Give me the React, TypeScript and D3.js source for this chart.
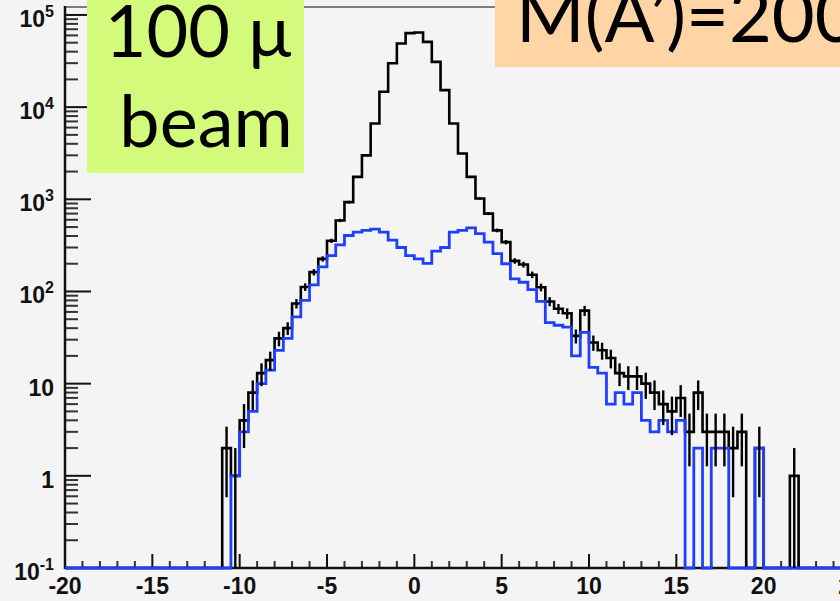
import React from "react";
import * as d3 from "d3";

// ---- data (bin width 0.5, x from -20 to 25) ----
const X_MIN = -20;
const X_MAX = 25;
const BIN_WIDTH = 0.5;

// black histogram: counts for bins starting at -11
const blackStart = -11;
const blackCounts = [
  2, 1, 4, 8, 13, 18, 31, 40, 74, 112, 162, 226, 355, 590, 933, 1750, 3000, 6650,
  14700, 29900, 49100, 63500, 64500, 51000, 31000, 15300, 6650, 3140, 1750, 1020,
  700, 460, 343, 215, 196, 152, 111, 78, 65, 58, 33, 62, 28, 23, 19, 13, 12, 12, 10,
  8, 6, 5, 7, 3, 8, 3, 3, 3, 2, 3, 0, 2, 0, 0, 0, 1, 0,
];

// blue histogram: counts for bins starting at -10.5
const blueStart = -10.5;
const blueCounts = [
  1, 3, 5, 10, 14, 23, 31, 53, 80, 118, 185, 245, 320, 405, 440, 460, 475, 440, 360,
  300, 245, 226, 202, 274, 300, 441, 460, 490, 424, 343, 257, 200, 137, 126, 105, 78,
  46, 43, 41, 20, 36, 15, 13, 6, 8, 6, 8, 4, 3, 4, 3, 4, 0, 2, 0, 2, 2, 0, 0, 0, 2, 0,
];

const xTickMajor = [-20, -15, -10, -5, 0, 5, 10, 15, 20, 25];
const yDecades = [
  { v: 0.1, base: "10", sup: "-1" },
  { v: 1, base: "1", sup: "" },
  { v: 10, base: "10", sup: "" },
  { v: 100, base: "10", sup: "2" },
  { v: 1000, base: "10", sup: "3" },
  { v: 10000, base: "10", sup: "4" },
  { v: 100000, base: "10", sup: "5" },
];
const Y_MIN = 0.1;
const Y_MAX = 122000;

const beamLines = ["100 μ", "beam"];
const massLabel = "M(A’)=200 MeV";

// ---- layout ----
const W = 840;
const H = 601;
const LEFT = 65;
const RIGHT = 851;
const TOP = 7;
const BOTTOM = 568;

function fullBins(start: number, counts: number[]) {
  const n = Math.round((X_MAX - X_MIN) / BIN_WIDTH);
  const out: { x0: number; x1: number; v: number }[] = [];
  const offset = Math.round((start - X_MIN) / BIN_WIDTH);
  for (let i = 0; i < n; i++) {
    const j = i - offset;
    const v = j >= 0 && j < counts.length ? counts[j] : 0;
    out.push({ x0: X_MIN + i * BIN_WIDTH, x1: X_MIN + (i + 1) * BIN_WIDTH, v });
  }
  return out;
}

export default function App() {
  const x = d3.scaleLinear().domain([X_MIN, X_MAX]).range([LEFT, RIGHT]);
  const y = d3.scaleLog().domain([Y_MIN, Y_MAX]).range([BOTTOM, TOP]);

  const yv = (v: number) => (v <= Y_MIN ? BOTTOM : y(v));

  const stepPath = (bins: { x0: number; x1: number; v: number }[]) => {
    const pts: [number, number][] = bins.map((b) => [x(b.x0), yv(b.v)]);
    const last = bins[bins.length - 1];
    pts.push([x(last.x1), yv(last.v)]);
    return d3.line().curve(d3.curveStepAfter)(pts) || "";
  };

  const black = fullBins(blackStart, blackCounts);
  const blue = fullBins(blueStart, blueCounts);

  const xMinor = d3.range(X_MIN, X_MAX + 0.001, 1).filter((v) => Math.abs(v % 5) > 0.001);
  const yMinor: number[] = [];
  for (let e = -1; e <= 5; e++) {
    for (let m = 2; m <= 9; m++) {
      const v = m * Math.pow(10, e);
      if (v < Y_MAX) yMinor.push(v);
    }
  }

  const labelFont = "'Liberation Sans', Arial, Helvetica, sans-serif";
  const bigFont = "Lato, 'Open Sans', sans-serif";

  return (
    <svg
      width={W}
      height={H}
      style={{ position: "absolute", left: 0, top: 0, background: "#f4f4f4" }}
    >
      <defs>
        <clipPath id="plot">
          <rect x={LEFT} y={TOP} width={RIGHT - LEFT} height={BOTTOM - TOP + 2} />
        </clipPath>
      </defs>
      <rect x={0} y={0} width={W} height={H} fill="#f4f4f4" />

      {/* frame */}
      <line x1={LEFT} x2={W} y1={TOP} y2={TOP} stroke="#7d7d7d" strokeWidth={2} />

      {/* y ticks */}
      {yDecades.map((d) => (
        <line key={"ym" + d.v} x1={LEFT} x2={LEFT + 26} y1={y(d.v)} y2={y(d.v)} stroke="#111" strokeWidth={2} />
      ))}
      {yMinor.map((v) => (
        <line key={"yn" + v} x1={LEFT} x2={LEFT + 13} y1={y(v)} y2={y(v)} stroke="#333" strokeWidth={2} />
      ))}
      {/* x ticks */}
      {xTickMajor.map((v) => (
        <line key={"xm" + v} x1={x(v)} x2={x(v)} y1={BOTTOM} y2={BOTTOM - 14} stroke="#111" strokeWidth={2} />
      ))}
      {xMinor.map((v) => (
        <line key={"xn" + v} x1={x(v)} x2={x(v)} y1={BOTTOM} y2={BOTTOM - 7} stroke="#333" strokeWidth={2} />
      ))}

      {/* axes */}
      <line x1={LEFT} x2={LEFT} y1={TOP - 1} y2={BOTTOM + 1} stroke="#111" strokeWidth={2.5} />
      <line x1={LEFT} x2={W} y1={BOTTOM} y2={BOTTOM} stroke="#111" strokeWidth={2.5} />

      {/* y labels */}
      {yDecades.map((d) => (
        <text
          key={"yl" + d.v}
          x={54}
          y={y(d.v) + 12}
          textAnchor="end"
          fontFamily={labelFont}
          fontWeight="bold"
          fontSize={23}
          fill="#111"
        >
          <tspan>{d.base}</tspan>
          {d.sup ? (
            <tspan dy={-10} fontSize={16}>
              {d.sup}
            </tspan>
          ) : null}
        </text>
      ))}

      {/* x labels */}
      {xTickMajor.map((v) => (
        <text
          key={"xl" + v}
          x={x(v)}
          y={594}
          textAnchor="middle"
          fontFamily={labelFont}
          fontWeight="bold"
          fontSize={23}
          fill="#111"
        >
          {v}
        </text>
      ))}

      {/* histograms */}
      <g clipPath="url(#plot)">
        <path d={stepPath(black)} fill="none" stroke="#000" strokeWidth={2.6} />
        <path d={stepPath(blue)} fill="none" stroke="#1f3fff" strokeWidth={2.8} />
        {black
          .filter((b) => b.v > 0)
          .map((b, i) => {
            const cx = x((b.x0 + b.x1) / 2);
            const e = Math.sqrt(b.v);
            const lo = b.v - e;
            return (
              <line
                key={"eb" + i}
                x1={cx}
                x2={cx}
                y1={yv(b.v + e)}
                y2={lo > Y_MIN ? y(lo) : BOTTOM}
                stroke="#000"
                strokeWidth={2.4}
              />
            );
          })}
      </g>

      {/* annotation boxes */}
      <rect x={87} y={0} width={217} height={173} fill="#d4fa7c" />
      <text x={198} y={57} textAnchor="middle" fontFamily={bigFont} fontSize={72} fill="#000">
        {beamLines[0]}
      </text>
      <text x={206} y={147} textAnchor="middle" fontFamily={bigFont} fontSize={72} fill="#000">
        {beamLines[1]}
      </text>

      <rect x={495} y={0} width={W - 495} height={67} fill="#ffd5a6" />
      <text x={516} y={42} fontFamily={bigFont} fontSize={74} fill="#000">
        {massLabel}
      </text>
    </svg>
  );
}
